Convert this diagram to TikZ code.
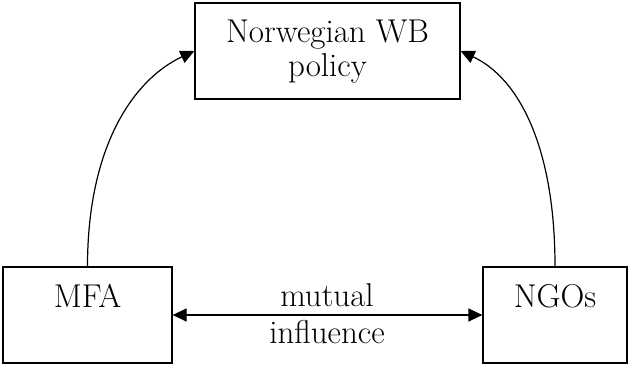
\documentclass[tikz,border=0pt]{standalone}
\usepackage{fontspec}
\usetikzlibrary{arrows.meta}
\begin{document}
\begin{tikzpicture}[x=1pt,y=1pt,
  box/.style={draw, line width=1.2pt, rectangle, inner sep=0pt},
  lbl/.style={font=\fontsize{33}{34}\selectfont, inner sep=0pt},
  conn/.style={line width=1.2pt, -{Triangle[length=14pt,width=13pt]}}]
\useasboundingbox (0,0) rectangle (629,365);
\node[box, minimum width=265pt, minimum height=96pt] (wb) at (327.5,314) {};
\node[lbl, align=center, anchor=base] (wbtext) at (327.5,288) {Norwegian WB\\policy};
\node[box, minimum width=169pt, minimum height=96pt] (mfa) at (87.5,50) {};
\node[lbl, anchor=base] (mfatext) at (87.5,58) {MFA};
\node[box, minimum width=144pt, minimum height=96pt] (ngos) at (555,50) {};
\node[lbl, anchor=base] (ngostext) at (555,58) {NGOs};
\draw[conn, {Triangle[length=14pt,width=13pt]}-{Triangle[length=14pt,width=13pt]}] (mfa.east) -- (ngos.west);
\node[lbl, anchor=base] (mutual) at (327,59) {mutual};
\node[lbl, anchor=base] (influence) at (327,22) {influence};
\draw[conn] (mfa.north) to[out=90, in=205, out looseness=1.3, in looseness=0.7] (wb.west);
\draw[conn] (ngos.north) to[out=90, in=-25, out looseness=1.3, in looseness=0.7] (wb.east);
\end{tikzpicture}
\end{document}
